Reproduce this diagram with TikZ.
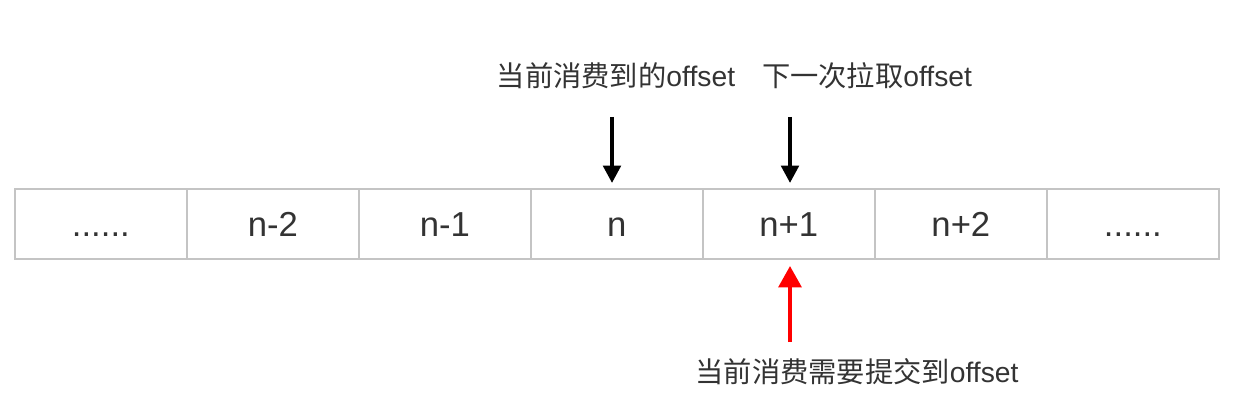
\documentclass[tikz,border=0pt]{standalone}
\usepackage{fontspec}
\setmainfont{Liberation Sans}
\newfontfamily\cjk{Noto Sans CJK SC}
\usetikzlibrary{arrows.meta}
\definecolor{txt}{HTML}{333333}
\definecolor{cellborder}{HTML}{C4C4C4}
\definecolor{redarrow}{HTML}{FF0000}
\begin{document}
\begin{tikzpicture}[x=0.75pt,y=-0.75pt,
  cell/.style={draw=cellborder,line width=1.3pt,minimum width=129pt,minimum height=52.5pt,inner sep=0pt,anchor=north west,text=txt,font=\fontsize{26}{30}\selectfont,text height=18.7pt,text depth=0pt},
  lbl/.style={text=txt,inner sep=0pt,font=\fontsize{21.2}{25}\selectfont},
  arr/.style={line width=3pt,-{Triangle[width=13pt,length=13pt]}}]
\useasboundingbox (0,0) rectangle (1256,406);
\node[cell] (c1) at (14,188) {......};
\node[cell] (c2) at (186,188) {n-2};
\node[cell] (c3) at (358,188) {n-1};
\node[cell] (c4) at (530,188) {n};
\node[cell] (c5) at (702,188) {n+1};
\node[cell] (c6) at (874,188) {n+2};
\node[cell] (c7) at (1046,188) {......};
\node[lbl] (l1) at (616,76) {{\cjk 当前消费到的}offset};
\node[lbl] (l2) at (867,76) {{\cjk 下一次拉取}offset};
\node[lbl] (l3) at (857,372) {{\cjk 当前消费需要提交到}offset};
\coordinate (a1) at (612,117);
\coordinate (a2) at (790,117);
\coordinate (a3) at (790,342);
\draw[arr] (a1) -- (a1 |- 0,183);
\draw[arr] (a2) -- (a2 |- 0,183);
\draw[arr,-{Triangle[width=17pt,length=16pt]},draw=redarrow,fill=redarrow] (a3) -- (a3 |- 0,266);
\end{tikzpicture}
\end{document}
